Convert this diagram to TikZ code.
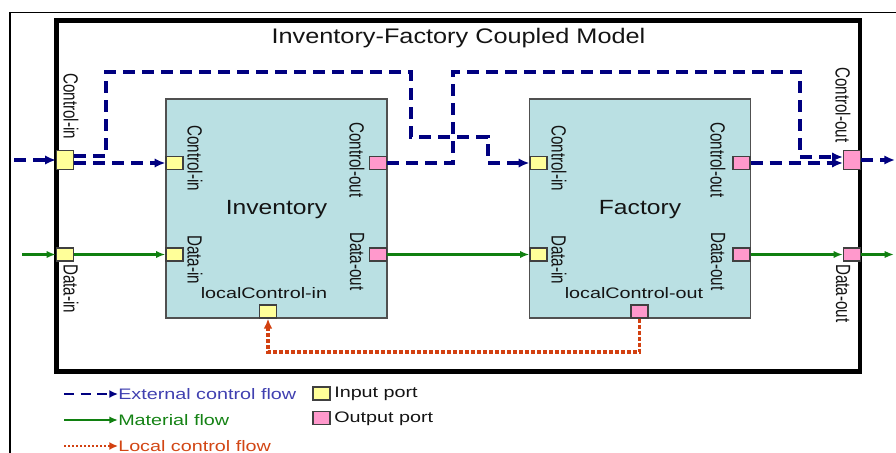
\documentclass[tikz,border=0pt]{standalone}
\usepackage{fontspec}
\setmainfont{Liberation Sans}
\usetikzlibrary{arrows.meta,calc}
\definecolor{ctrl}{RGB}{0,0,128}
\definecolor{matl}{RGB}{16,128,16}
\definecolor{loc}{RGB}{210,64,16}
\definecolor{boxfill}{RGB}{186,224,227}
\definecolor{boxline}{RGB}{80,80,80}
\definecolor{portline}{RGB}{64,64,64}
\definecolor{inport}{RGB}{255,255,153}
\definecolor{outport}{RGB}{255,153,204}
\definecolor{legblue}{RGB}{64,64,176}
\definecolor{leggreen}{RGB}{20,130,20}
\definecolor{legred}{RGB}{210,70,20}
\definecolor{labeltext}{RGB}{20,20,20}
\newcommand{\smallfnt}{\fontsize{11.4pt}{13pt}\selectfont}
\newcommand{\hsx}[1]{\scalebox{1.3}[1]{#1}}
\newcommand{\vsx}[1]{\scalebox{1}[1.35]{#1}}
\newcommand{\bsx}[1]{\scalebox{1.2}[1]{#1}}
\begin{document}
\begin{tikzpicture}[x=0.75pt,y=-0.75pt,
  model/.style={draw=boxline, fill=boxfill, line width=0.9pt, minimum width=165.75pt, minimum height=164.25pt, inner sep=0pt},
  inp/.style={draw=portline, fill=inport, line width=0.9pt, minimum width=12.75pt, minimum height=9.75pt, inner sep=0pt},
  outp/.style={inp, fill=outport},
  tallp/.style={minimum height=14.25pt},
  vlabel/.style={rotate=-90, anchor=west, inner sep=0pt, font=\smallfnt, text=labeltext},
  hlabel/.style={inner sep=0pt, font=\smallfnt, text=labeltext},
  biglabel/.style={inner sep=0pt, font=\fontsize{15.4pt}{18pt}\selectfont, text=labeltext},
  ctrlflow/.style={draw=ctrl, line width=2.9pt, dash pattern=on 9pt off 5.25pt, -{Latex[length=8pt,width=7pt]}},
  matflow/.style={draw=matl, line width=2pt, -{Latex[length=7pt,width=5.5pt]}},
  locflow/.style={draw=loc, line width=2.7pt, dash pattern=on 3pt off 1.5pt, -{Latex[length=7.5pt,width=6.5pt]}},
  legctrl/.style={draw=ctrl, line width=2.2pt, dash pattern=on 7.5pt off 5pt, -{Latex[length=6.5pt,width=6pt]}},
  legmat/.style={draw=matl, line width=2pt, -{Latex[length=6.5pt,width=5.5pt]}},
  legloc/.style={draw=loc, line width=2.2pt, dash pattern=on 1.5pt off 1.5pt, -{Latex[length=6.5pt,width=6pt]}}
]
\useasboundingbox (0,0) rectangle (896,453);
% outer thin frame
\draw[line width=1.4pt] (10,453) -- (10,12.5) -- (896,12.5);
% coupled model frame
\node[draw, line width=3.2pt, minimum width=602.6pt, minimum height=263.25pt, inner sep=0pt] (frame) at (458.25,196) {};
\node[inner sep=0pt, font=\fontsize{15.8pt}{18pt}\selectfont, text=labeltext] (title) at (458.5,38) {\bsx{Inventory-Factory Coupled Model}};
% atomic models
\node[model] (inv) at (276.5,208.5) {};
\node[biglabel] (invname) at (276.5,210) {\bsx{Inventory}};
\node[model] (fac) at (640,208.5) {};
\node[biglabel] (facname) at (640,210) {\bsx{Factory}};
% ports
\node[inp, tallp] (pci) at (65,160) {};
\node[inp] (pdi) at (65,254.5) {};
\node[outp, tallp] (pco) at (852,160) {};
\node[outp] (pdo) at (852,254.5) {};
\node[inp] (ici) at (174.5,163) {};
\node[outp] (ico) at (378,163) {};
\node[inp] (idi) at (174.5,254.5) {};
\node[outp] (ido) at (378,254.5) {};
\node[inp] (ilc) at (268,311.5) {};
\node[inp] (fci) at (538.5,163) {};
\node[outp] (fco) at (741.5,163) {};
\node[inp] (fdi) at (538.5,254.5) {};
\node[outp] (fdo) at (741.5,254.5) {};
\node[outp] (flc) at (639.5,311.5) {};
% external control flow
\coordinate (cin) at (14,160);
\coordinate (cout) at (895,160);
\draw[ctrlflow] (cin) -- (pci.west);
\draw[ctrlflow] ([yshift=3pt]pci.east) -| (106,72) -| (411,137) -| (488,163) -- (fci.west);
\draw[ctrlflow] ([yshift=-2.25pt]pci.east) -- (ici.west);
\draw[ctrlflow] (ico.east) -| (453,72) -| (800,157) -- ([yshift=2.25pt]pco.west);
\draw[ctrlflow] (fco.east) -- ([yshift=-2.25pt]pco.west);
\draw[ctrlflow] (pco.east) -- (cout);
% material flow
\coordinate (din) at (22,254.5);
\coordinate (dout) at (894,254.5);
\draw[matflow] (din) -- (pdi.west);
\draw[matflow] (pdi.east) -- (idi.west);
\draw[matflow] (ido.east) -- (fdi.west);
\draw[matflow] (fdo.east) -- (pdo.west);
\draw[matflow] (pdo.east) -- (dout);
% local control flow
\draw[locflow] (flc.south) -- (639.5,352) -| (ilc.south);
% port labels
\node[vlabel] (lpci) at (71,73) {\vsx{Control-in}};
\node[vlabel] (lpdi) at (71,264) {\vsx{Data-in}};
\node[vlabel] (lpco) at (843,67) {\vsx{Control-out}};
\node[vlabel] (lpdo) at (843,264) {\vsx{Data-out}};
\node[vlabel] (lici) at (195,125) {\vsx{Control-in}};
\node[vlabel] (lico) at (357,122) {\vsx{Control-out}};
\node[vlabel] (lidi) at (195,235) {\vsx{Data-in}};
\node[vlabel] (lido) at (357,232) {\vsx{Data-out}};
\node[vlabel] (lfci) at (559,125) {\vsx{Control-in}};
\node[vlabel] (lfco) at (718,122) {\vsx{Control-out}};
\node[vlabel] (lfdi) at (559,235) {\vsx{Data-in}};
\node[vlabel] (lfdo) at (718,232) {\vsx{Data-out}};
\node[hlabel] (lilc) at (264,293) {\hsx{localControl-in}};
\node[hlabel] (lflc) at (634,293) {\hsx{localControl-out}};
% legend
\coordinate (lg1) at (64,394);
\coordinate (lg2) at (64,420);
\coordinate (lg3) at (64,446);
\node[hlabel, anchor=west, text=legblue] (lt1) at (118,394) {\hsx{External control flow}};
\node[hlabel, anchor=west, text=leggreen] (lt2) at (118,420) {\hsx{Material flow}};
\node[hlabel, anchor=west, text=legred] (lt3) at (118,446) {\hsx{Local control flow}};
\draw[legctrl] (lg1) -- (lt1.west);
\draw[legmat] (lg2) -- (lt2.west);
\draw[legloc] (lg3) -- (lt3.west);
\node[inp] (lin) at (321.5,393.5) {};
\node[hlabel, anchor=west] (lint) at (334,394) {\hsx{Input port}};
\node[outp] (lout) at (321.5,418) {};
\node[hlabel, anchor=west] (loutt) at (334,419) {\hsx{Output port}};
\end{tikzpicture}
\end{document}
